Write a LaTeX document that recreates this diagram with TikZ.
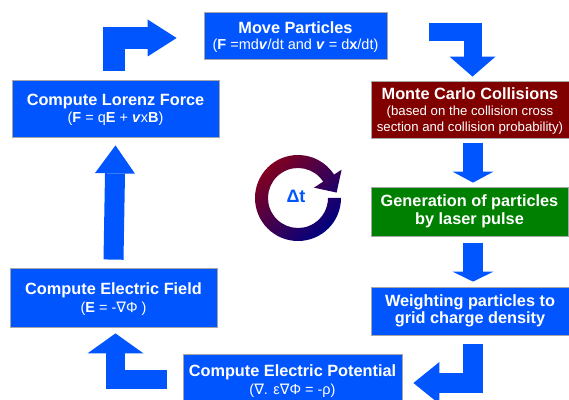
\documentclass[tikz,border=0pt]{standalone}
\usepackage{fontspec}
\setmainfont{Liberation Sans}
\newfontfamily\nablafont{DejaVu Sans}
\usetikzlibrary{arrows.meta,calc}

\definecolor{flowblue}{RGB}{0,85,255}
\definecolor{mcred}{RGB}{128,0,0}
\definecolor{gengreen}{RGB}{0,128,0}
\definecolor{ringred}{RGB}{128,0,32}
\definecolor{ringblue}{RGB}{0,0,128}

\newcommand{\subtxt}{\mdseries\fontsize{14.5}{15}\selectfont}
\newcommand{\nab}{{\nablafont\mdseries ∇}}

\tikzset{
	box/.style={draw=gray!70, line width=.8pt, fill=flowblue, text=white, align=center,
		inner sep=0pt, font=\bfseries\fontsize{16.3}{17.5}\selectfont},
	subbox/.style={box, text depth=-2.5pt},
	flow/.style={draw=flowblue, line width=#1},
	tipto/.style 2 args={-{Triangle[length=#1, width=#2, line width=0pt]}},
}

\begin{document}
\begin{tikzpicture}[x=1pt, y=1pt]
			\useasboundingbox[fill=white] (0,0) rectangle (569,399);
			
			% the loop boxes
			\node[subbox, minimum width=207pt, minimum height=57pt] (lorenz) at (115.5,290.5)
				{Compute Lorenz Force\\{\subtxt (\textbf{F} = q\textbf{E} + \textbf{\textit{v}}x\textbf{B})}};
			\node[subbox, minimum width=183pt, minimum height=47pt] (move) at (295.5,363.5)
				{Move Particles\\[-1pt]{\subtxt (\textbf{F} =md\textbf{\textit{v}}/dt and \textbf{\textit{v}} = d\textbf{x}/dt)}};
			\node[subbox, fill=mcred, minimum width=198pt, minimum height=57pt] (mc) at (470,289.5)
				{Monte Carlo Collisions\\[-1.5pt]{\mdseries\fontsize{13.2}{14}\selectfont (based on the collision cross}\\[-1.5pt]
				{\mdseries\fontsize{13.2}{14}\selectfont section and collision probability)}};
			\node[box, fill=gengreen, minimum width=197pt, minimum height=49pt] (gen) at (469.5,187.5)
				{Generation of particles\\[1pt]by laser pulse};
			\node[box, minimum width=198pt, minimum height=48pt] (weight) at (470,88)
				{Weighting particles to\\grid charge density};
			\node[subbox, minimum width=207pt, minimum height=59pt] (field) at (113.5,101.5)
				{Compute Electric Field\\{\subtxt (\textbf{E} = -\nab Φ )}};
			\node[subbox, minimum width=219pt, minimum height=50pt] (potential) at (292.5,19.5)
				{Compute Electric Potential\\{\subtxt (\nab. ε\nab Φ = -ρ)}};
			
			% block arrows between the boxes
			\draw[flow=22pt, tipto={29pt}{37pt}] ([shift={(-1.5pt,9pt)}]lorenz.north) |- ([shift={(-27pt,-2.5pt)}]move.west);
			\draw[flow=18pt, tipto={20pt}{46pt}] ([shift={(42pt,3.5pt)}]move.east) -| ([shift={(2.5pt,4pt)}]mc.north);
			\draw[flow=20pt, tipto={11pt}{41pt}] ([shift={(3pt,-5pt)}]mc.south) -- ([shift={(3.5pt,4pt)}]gen.north);
			\draw[flow=20pt, tipto={10pt}{41pt}] ([shift={(3.5pt,-7pt)}]gen.south) -- ([shift={(3pt,5pt)}]weight.north);
			\draw[flow=20pt, tipto={26pt}{42pt}] ([shift={(2.5pt,-9pt)}]weight.south) |- ([shift={(11pt,-3.5pt)}]potential.east);
			\draw[flow=19pt, tipto={20pt}{56pt}] ([shift={(-16pt,0.5pt)}]potential.west) -| ([shift={(2pt,-6pt)}]field.south);
			\draw[flow=20pt, tipto={28pt}{40pt}] ([yshift=8pt]field.north) -- ([shift={(0pt,-8pt)}]lorenz.south);
			
			% time step loop
			\coordinate (cyc) at (298,201);
			\shade[top color=ringred, bottom color=ringblue, shading angle=45]
				($(cyc)+(0:43)$) arc[start angle=0, end angle=-327, radius=43]
				-- ($(cyc)+(33:52)$) -- ($(cyc)+(8:39)$) -- ($(cyc)+(33:19)$) -- ($(cyc)+(33:30)$)
				arc[start angle=33, end angle=360, radius=30] -- cycle;
			\node[text=flowblue, font=\bfseries\fontsize{18}{18}\selectfont] (dt) at (296,202.5) {Δt};
\end{tikzpicture}
\end{document}
